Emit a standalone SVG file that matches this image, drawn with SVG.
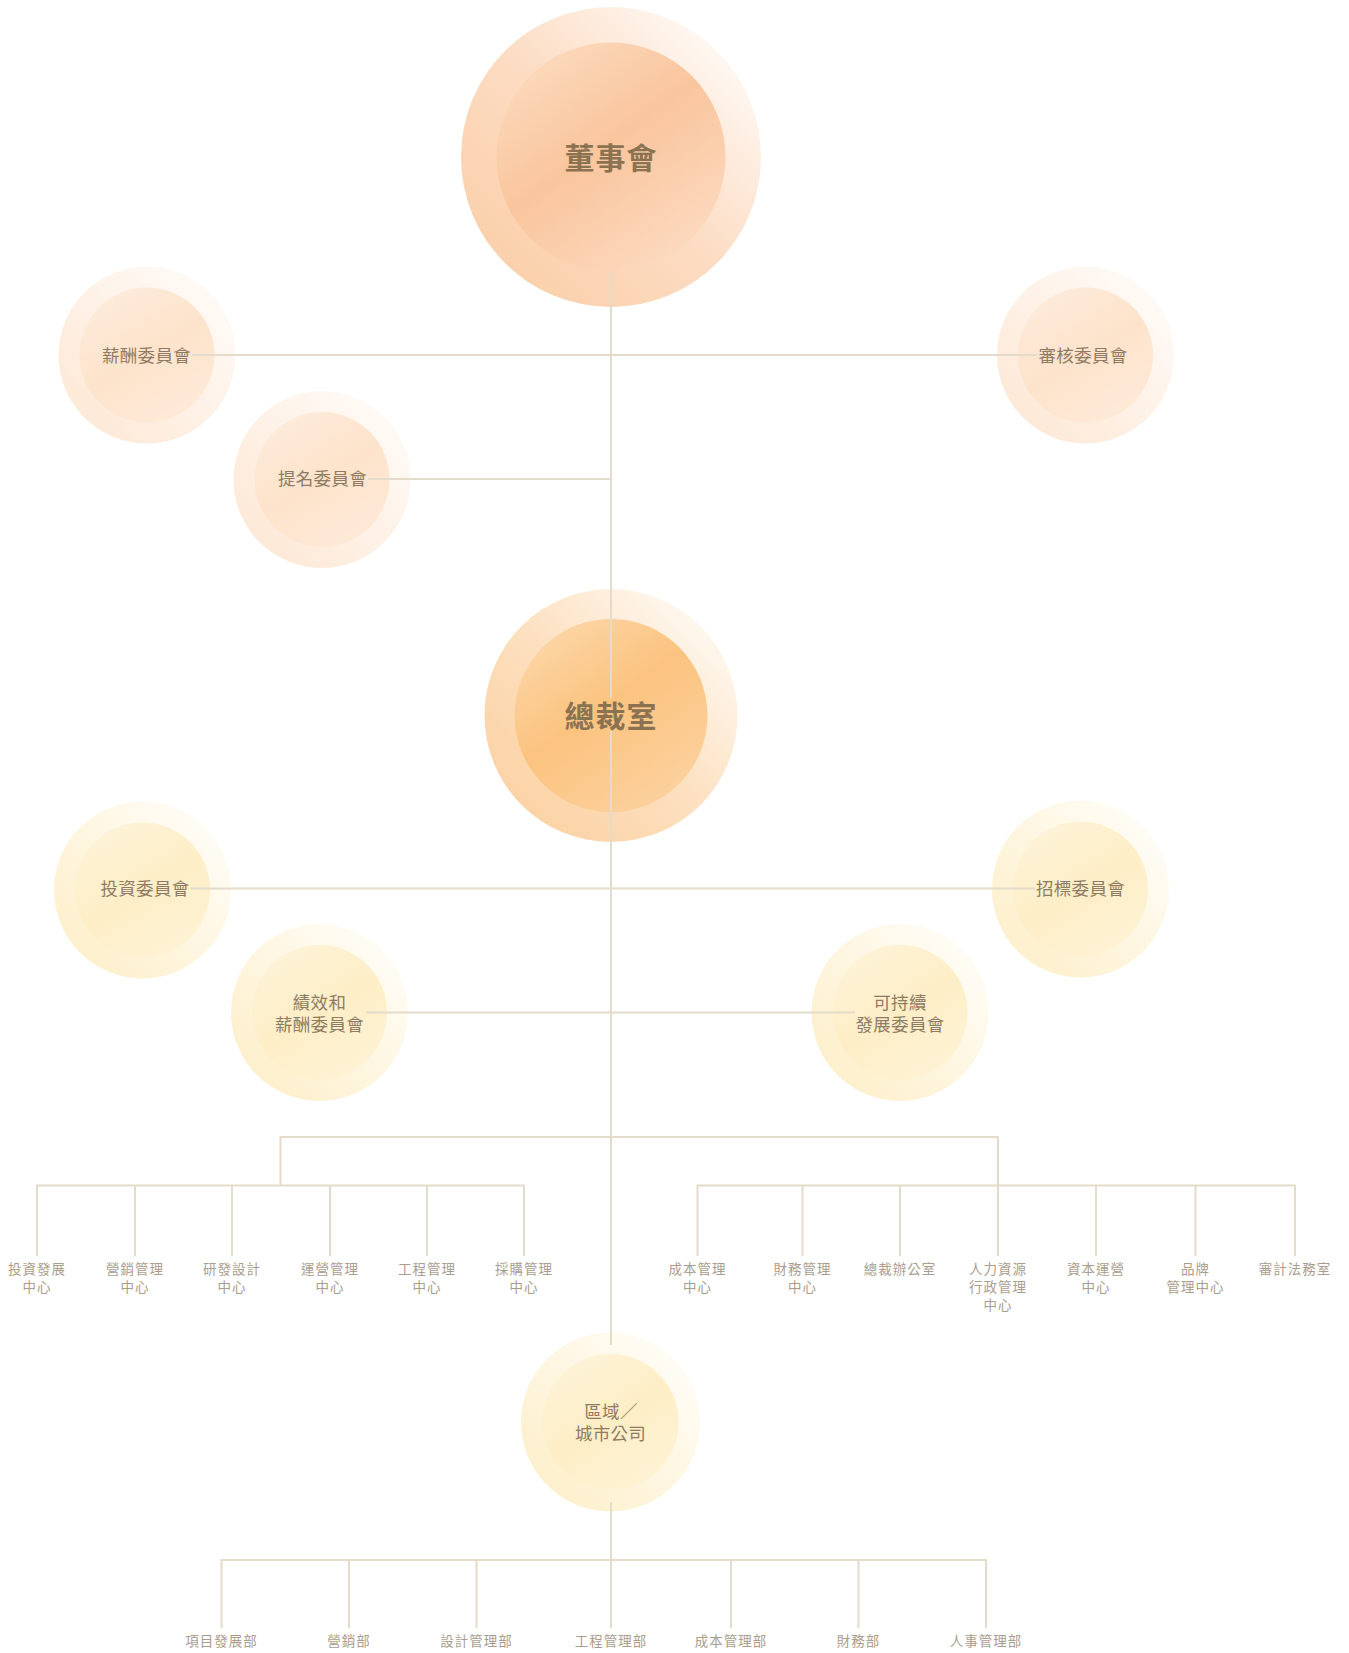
<svg xmlns="http://www.w3.org/2000/svg" width="1349" height="1653" viewBox="0 0 1349 1653">
<defs>
<linearGradient id="topOuter" x1="0.1" y1="0.9" x2="0.9" y2="0.1"><stop offset="0" stop-color="#fbcfa9"/><stop offset="0.5" stop-color="#fcdcc3"/><stop offset="1" stop-color="#fffaf6"/></linearGradient>
<linearGradient id="topInner" x1="0.15" y1="0" x2="0.85" y2="1"><stop offset="0" stop-color="#fcdcc0"/><stop offset="0.45" stop-color="#f9c59d"/><stop offset="1" stop-color="#fddcc3"/></linearGradient>
<linearGradient id="ceoOuter" x1="0.1" y1="0.9" x2="0.9" y2="0.1"><stop offset="0" stop-color="#fbd1a2"/><stop offset="0.5" stop-color="#fde0c0"/><stop offset="1" stop-color="#fffaf3"/></linearGradient>
<linearGradient id="ceoInner" x1="0.15" y1="0" x2="0.85" y2="1"><stop offset="0" stop-color="#fcd8ab"/><stop offset="0.45" stop-color="#fbc37f"/><stop offset="1" stop-color="#fcd3a2"/></linearGradient>
<linearGradient id="pOuter" x1="0.1" y1="0.9" x2="0.9" y2="0.1"><stop offset="0" stop-color="#fde8d5"/><stop offset="1" stop-color="#fffbf8"/></linearGradient>
<linearGradient id="pInner" x1="0.2" y1="0" x2="0.8" y2="1"><stop offset="0" stop-color="#fdebdb"/><stop offset="0.5" stop-color="#fde3cb"/><stop offset="1" stop-color="#feead9"/></linearGradient>
<linearGradient id="yOuter" x1="0.1" y1="0.9" x2="0.9" y2="0.1"><stop offset="0" stop-color="#fdefca"/><stop offset="1" stop-color="#fffdf8"/></linearGradient>
<linearGradient id="yInner" x1="0.2" y1="0" x2="0.8" y2="1"><stop offset="0" stop-color="#fdf3d8"/><stop offset="0.5" stop-color="#fdeec6"/><stop offset="1" stop-color="#fef3d6"/></linearGradient>
</defs>
<style>
.title{font-family:"Noto Sans CJK TC","Noto Sans CJK SC",sans-serif;font-weight:700;font-size:30px;fill:#8b7352;text-anchor:middle;dominant-baseline:central;letter-spacing:1px}
.cm{font-family:"Noto Sans CJK TC","Noto Sans CJK SC",sans-serif;font-size:17.5px;fill:#8f7b63;text-anchor:middle;dominant-baseline:central;letter-spacing:0.3px}
.lb{font-family:"Noto Sans CJK TC","Noto Sans CJK SC",sans-serif;font-size:13.5px;fill:#ab9d8e;text-anchor:middle;dominant-baseline:central;letter-spacing:1px}
.ln{stroke:#e4dbca;stroke-width:2;fill:none}
</style>

<g id="node-board"><circle cx="611" cy="157" r="150" fill="url(#topOuter)"/><circle cx="611" cy="157" r="114.5" fill="url(#topInner)"/><text class="title" x="611" y="156">董事會</text></g>
<g id="node-remuneration"><circle cx="147" cy="355" r="88.5" fill="url(#pOuter)"/><circle cx="147" cy="355" r="67.5" fill="url(#pInner)"/><text class="cm" x="146.5" y="354">薪酬委員會</text></g>
<g id="node-nomination"><circle cx="322" cy="479.5" r="88.5" fill="url(#pOuter)"/><circle cx="322" cy="479.5" r="67.5" fill="url(#pInner)"/><text class="cm" x="322.5" y="477.5">提名委員會</text></g>
<g id="node-audit"><circle cx="1085.5" cy="355" r="88.5" fill="url(#pOuter)"/><circle cx="1085.5" cy="355" r="67.5" fill="url(#pInner)"/><text class="cm" x="1083" y="354">審核委員會</text></g>
<g id="node-ceo"><circle cx="611" cy="715.5" r="126.5" fill="url(#ceoOuter)"/><circle cx="611" cy="715.5" r="96.5" fill="url(#ceoInner)"/><text class="title" x="611" y="714">總裁室</text></g>
<g id="node-investment"><circle cx="142.5" cy="890" r="88.5" fill="url(#yOuter)"/><circle cx="142.5" cy="890" r="67.5" fill="url(#yInner)"/><text class="cm" x="145" y="887">投資委員會</text></g>
<g id="node-tender"><circle cx="1080.5" cy="889" r="88.5" fill="url(#yOuter)"/><circle cx="1080.5" cy="889" r="67.5" fill="url(#yInner)"/><text class="cm" x="1080.5" y="887">招標委員會</text></g>
<g id="node-performance"><circle cx="319.5" cy="1012.5" r="88.5" fill="url(#yOuter)"/><circle cx="319.5" cy="1012.5" r="67.5" fill="url(#yInner)"/><text class="cm" x="319.5" y="1001">績效和</text><text class="cm" x="319.5" y="1023">薪酬委員會</text></g>
<g id="node-sustainability"><circle cx="900" cy="1012.5" r="88.5" fill="url(#yOuter)"/><circle cx="900" cy="1012.5" r="67.5" fill="url(#yInner)"/><text class="cm" x="900" y="1001">可持續</text><text class="cm" x="900" y="1023">發展委員會</text></g>
<g id="node-region"><circle cx="610.5" cy="1422" r="89.5" fill="url(#yOuter)"/><circle cx="610.5" cy="1422" r="68" fill="url(#yInner)"/><text class="cm" x="611" y="1410">區域／</text><text class="cm" x="610.5" y="1432">城市公司</text></g>

<g id="connectors">
<path class="ln" d="M611 272V698M611 731V1345"/>
<path class="ln" d="M192 355H1037"/>
<path class="ln" d="M368 479H611"/>
<path class="ln" d="M190 888.5H1035"/>
<path class="ln" d="M366 1012.5H855"/>
<path class="ln" d="M280.5 1185.5V1137H998V1256"/>
<path class="ln" d="M37 1256V1185.5H524V1256M135 1185.5V1256M232 1185.5V1256M330 1185.5V1256M427 1185.5V1256"/>
<path class="ln" d="M697.5 1256V1185.5H1295V1256M802.5 1185.5V1256M900 1185.5V1256M1096 1185.5V1256M1195.5 1185.5V1256"/>
<path class="ln" d="M611 1502V1628M221.5 1628V1560H986V1628M349 1560V1628M476.5 1560V1628M731 1560V1628M858.5 1560V1628"/>
</g>

<g id="dept-labels">
<text class="lb" x="37" y="1268">投資發展</text><text class="lb" x="37" y="1286">中心</text>
<text class="lb" x="135" y="1268">營銷管理</text><text class="lb" x="135" y="1286">中心</text>
<text class="lb" x="232" y="1268">研發設計</text><text class="lb" x="232" y="1286">中心</text>
<text class="lb" x="330" y="1268">運營管理</text><text class="lb" x="330" y="1286">中心</text>
<text class="lb" x="427" y="1268">工程管理</text><text class="lb" x="427" y="1286">中心</text>
<text class="lb" x="524" y="1268">採購管理</text><text class="lb" x="524" y="1286">中心</text>
<text class="lb" x="697.5" y="1268">成本管理</text><text class="lb" x="697.5" y="1286">中心</text>
<text class="lb" x="802.5" y="1268">財務管理</text><text class="lb" x="802.5" y="1286">中心</text>
<text class="lb" x="900" y="1268">總裁辦公室</text>
<text class="lb" x="998" y="1268">人力資源</text><text class="lb" x="998" y="1286">行政管理</text><text class="lb" x="998" y="1304">中心</text>
<text class="lb" x="1096" y="1268">資本運營</text><text class="lb" x="1096" y="1286">中心</text>
<text class="lb" x="1195.5" y="1268">品牌</text><text class="lb" x="1195.5" y="1286">管理中心</text>
<text class="lb" x="1295" y="1268">審計法務室</text>
</g>
<g id="region-labels">
<text class="lb" x="221.5" y="1640">項目發展部</text>
<text class="lb" x="349" y="1640">營銷部</text>
<text class="lb" x="476.5" y="1640">設計管理部</text>
<text class="lb" x="611" y="1640">工程管理部</text>
<text class="lb" x="731" y="1640">成本管理部</text>
<text class="lb" x="858.5" y="1640">財務部</text>
<text class="lb" x="986" y="1640">人事管理部</text>
</g>
</svg>
